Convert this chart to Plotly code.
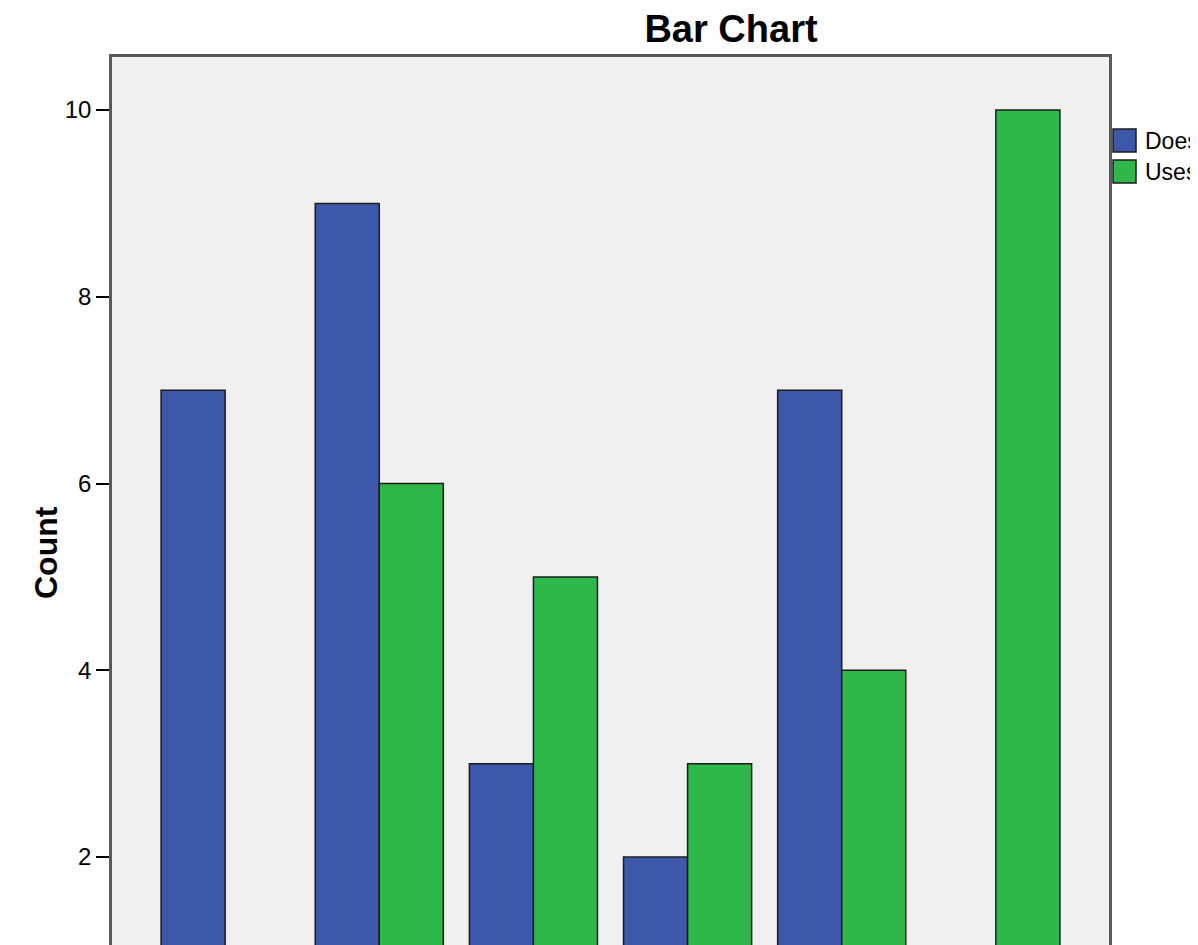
import plotly.graph_objects as go

categories = ["Group 1", "Group 2", "Group 3", "Group 4", "Group 5", "Group 6"]
series_names = ["Does not use", "Uses"]
does_not_use = [7, 9, 3, 2, 7, None]
uses = [None, 6, 5, 3, 4, 10]
y_ticks = [2, 4, 6, 8, 10]
colors = ["#3D57AB", "#2EB84A"]

# page body has an 8px margin; all pixel positions below are relative to the figure
OFF = 8
W, H = 1198 - OFF, 945 - OFF
L, R, T, B = 112 - OFF, 1109 - OFF, 57 - OFF, 945 - OFF
PW, PH = R - L, B - T


def px_x(x):
    return (x - OFF - L) / PW


def px_y(y):
    return (B - (y - OFF)) / PH


fig = go.Figure()
for name, vals, col in zip(series_names, [does_not_use, uses], colors):
    fig.add_trace(go.Bar(x=categories, y=vals, name=name, showlegend=False,
                         marker=dict(color=col, line=dict(color="#1c1c1c", width=1.5))))

shapes = []
annotations = [dict(text="<b>Count</b>", xref="paper", yref="paper",
                    x=px_x(26), y=px_y(553), textangle=-90, showarrow=False,
                    font=dict(size=32, family="Arial, Liberation Sans", color="black"))]
for i, (name, col) in enumerate(zip(series_names, colors)):
    top = 129 + i * 31
    shapes.append(dict(type="rect", xref="paper", yref="paper",
                       x0=px_x(1113), x1=px_x(1136), y0=px_y(top), y1=px_y(top + 23),
                       fillcolor=col, line=dict(color="#1c1c1c", width=1.5)))
    annotations.append(dict(text=name, xref="paper", yref="paper",
                            x=px_x(1143), y=px_y(top + 11.5), xanchor="left", yanchor="middle",
                            showarrow=False,
                            font=dict(size=23, family="Arial, Liberation Sans", color="black")))

fig.update_layout(
    width=W, height=H,
    margin=dict(l=L, r=W - R, t=T, b=H - B, autoexpand=False, pad=0),
    paper_bgcolor="white", plot_bgcolor="#F0F0F0",
    barmode="group", bargap=0.169, bargroupgap=0,
    font=dict(family="Arial, Liberation Sans", color="black", size=24),
    title=dict(text="<b>Bar Chart</b>", x=(731 - OFF) / W, xref="container", xanchor="center",
               y=1 - (29 - OFF) / H, yref="container", yanchor="middle",
               font=dict(size=38, family="Arial, Liberation Sans", color="black")),
    showlegend=False,
    xaxis=dict(range=[-0.734, 5.734], showgrid=False, showline=True, mirror=True,
               linecolor="#5a5a5a", linewidth=2.5, showticklabels=False, ticks=""),
    yaxis=dict(range=[2 - (945 - 857) / 93.375, 10 + (110 - 57) / 93.375],
               tickvals=y_ticks, ticks="outside", ticklen=13, tickcolor="black",
               tickwidth=1.5, showgrid=False, zeroline=False, showline=True,
               mirror=True, linecolor="#5a5a5a", linewidth=2.5,
               tickfont=dict(size=24)),
    shapes=shapes,
    annotations=annotations,
)

fig.write_html("out.html")
